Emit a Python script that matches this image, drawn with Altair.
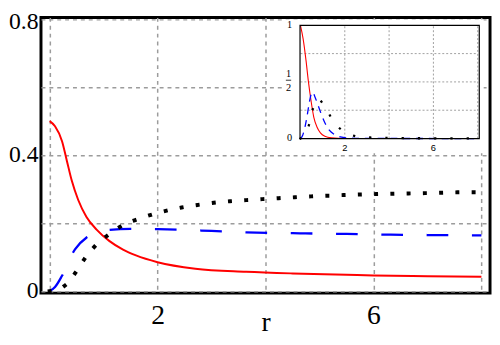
import altair as alt
import pandas as pd

# ---------------- main panel data ----------------
red_r = [0, 0.1, 0.23, 0.32, 0.41, 0.53, 0.68, 0.87, 1.11, 1.36, 1.6, 2.0, 2.7, 3.64, 4.5, 5.5, 6.0, 7.0, 8.0]
red_v = [0.5, 0.485, 0.441, 0.383, 0.325, 0.268, 0.219, 0.181, 0.147, 0.122, 0.105, 0.085, 0.066, 0.057, 0.052, 0.048, 0.046, 0.044, 0.042]

blue_r = [0, 0.1, 0.23, 0.47, 0.68, 0.9, 1.11, 1.5, 2.0, 2.5, 3.0, 3.64, 4.64, 5.5, 6.32, 7.0, 8.0]
blue_v = [0, 0.012, 0.045, 0.123, 0.157, 0.172, 0.180, 0.183, 0.182, 0.180, 0.177, 0.173, 0.170, 0.168, 0.166, 0.165, 0.164]

black_r = [0, 0.15, 0.31, 0.5, 0.67, 0.87, 1.11, 1.37, 1.66, 1.96, 2.26, 2.56, 2.86, 3.17, 3.49, 3.79, 4.1, 5.04, 5.95, 6.9, 7.83, 8.0]
black_v = [0, 0.005, 0.02, 0.059, 0.1, 0.137, 0.168, 0.195, 0.213, 0.228, 0.240, 0.249, 0.256, 0.262, 0.266, 0.269, 0.272, 0.280, 0.285, 0.288, 0.291, 0.291]

x_grid = [0, 2, 4, 6, 8]
x_labels = [2, 6]
y_grid = [0, 0.2, 0.4, 0.6, 0.8]
y_labels = [0, 0.4, 0.8]

# ---------------- inset data ----------------
in_red_r = [0, 0.12, 0.25, 0.36, 0.48, 0.6, 0.75, 0.9, 1.1, 1.4, 2.0, 4.0, 8.0]
in_red_v = [1.0, 0.88, 0.69, 0.5, 0.33, 0.19, 0.10, 0.05, 0.02, 0.006, 0.0, 0.0, 0.0]

in_blue_r = [0, 0.1, 0.2, 0.3, 0.4, 0.48, 0.55, 0.65, 0.8, 0.95, 1.1, 1.3, 1.5, 1.8, 2.2, 3.0, 8.0]
in_blue_v = [0, 0.03, 0.10, 0.20, 0.32, 0.39, 0.41, 0.37, 0.29, 0.21, 0.14, 0.075, 0.04, 0.015, 0.005, 0.001, 0.0]

in_black_r = [0, 0.2, 0.4, 0.57, 0.7, 0.82, 1.0, 1.2, 1.4, 1.6, 1.86, 2.2, 2.57, 3.3, 4.0, 5.0, 6.0, 7.0, 8.0]
in_black_v = [0, 0.04, 0.13, 0.27, 0.33, 0.35, 0.31, 0.25, 0.18, 0.125, 0.075, 0.04, 0.018, 0.008, 0.005, 0.003, 0.002, 0.001, 0.001]

in_x_grid = [2, 4, 6, 8]
in_y_grid = [0.25, 0.5, 0.75]
in_x_labels = ["2", "6"]
in_x_label_pos = [2, 6]
in_y_labels = ["1", "0"]
in_y_label_pos = [1, 0]

# inset placement (in inset data units)
in_box = dict(r=-0.72, r2=8.27, v=-0.13, v2=1.052)
in_frame = dict(r=-0.02, r2=8.07, v=0, v2=1)

SERIF = "Liberation Serif"


def df(xs, ys):
    return pd.DataFrame({"r": xs, "v": ys})


# ---------------- main panel ----------------
x_axis = alt.Axis(
    values=x_grid,
    labelExpr="datum.value == 2 || datum.value == 6 ? datum.label : ''",
    grid=True, gridDash=[4, 4], gridColor="#9c9c9c", gridWidth=1.5,
    domain=False, ticks=False, labelOverlap=False, labelFlush=False,
    labelFont=SERIF, labelFontSize=28, labelColor="black", labelPadding=9,
    title="r", titleFont=SERIF, titleFontSize=28, titleFontWeight="normal",
    titleColor="black", titleY=38, titleBaseline="alphabetic",
)
y_axis = alt.Axis(
    values=y_grid,
    labelExpr="datum.value == 0.2 || datum.value == 0.6 ? '' : format(datum.value, '~g')",
    grid=True, gridDash=[4, 4], gridColor="#9c9c9c", gridWidth=1.5,
    domain=False, ticks=False, labelOverlap=False, labelFlush=False,
    labelFont=SERIF, labelFontSize=24, labelColor="black", labelPadding=3,
    labelOffset={"condition": {"test": "datum.value == 0.8", "value": 3}, "value": 0},
    title=None,
)
X = alt.X("r:Q", scale=alt.Scale(domain=[-0.16, 8.16], nice=False, zero=False), axis=x_axis)
Y = alt.Y("v:Q", scale=alt.Scale(domain=[-0.006, 0.805], nice=False, zero=False), axis=y_axis)

red = alt.Chart(df(red_r, red_v)).mark_line(color="#ff0000", strokeWidth=2, interpolate="monotone").encode(x=X, y=Y)
blue = alt.Chart(df(blue_r, blue_v)).mark_line(color="#0000ff", strokeWidth=2.3, strokeDash=[22, 24], interpolate="monotone").encode(x=X, y=Y)
black = alt.Chart(df(black_r, black_v)).mark_line(color="black", strokeWidth=4, strokeDash=[0.01, 16.5], strokeCap="square", interpolate="monotone").encode(x=X, y=Y)

main = alt.layer(red, blue, black)

# ---------------- inset ----------------
IX = alt.Scale(domain=[0, 8], range=[263.5, 443.5], nice=False, zero=False)
IY = alt.Scale(domain=[0, 1], range=[123, 8], nice=False, zero=False)
ix = alt.X("r:Q", scale=IX, axis=None)
iy = alt.Y("v:Q", scale=IY, axis=None)

box = alt.Chart(pd.DataFrame([in_box])).mark_rect(fill="white").encode(x=ix, x2="r2:Q", y=iy, y2="v2:Q")

vgrid = alt.Chart(pd.DataFrame({"r": in_x_grid, "v": [0] * len(in_x_grid), "v2": [1] * len(in_x_grid)})).mark_rule(
    color="#a0a0a0", strokeWidth=1, strokeDash=[2, 2]).encode(x=ix, y=iy, y2="v2:Q")
hgrid = alt.Chart(pd.DataFrame({"v": in_y_grid, "r": [0] * len(in_y_grid), "r2": [8] * len(in_y_grid)})).mark_rule(
    color="#a0a0a0", strokeWidth=1, strokeDash=[2, 2]).encode(y=iy, x=ix, x2="r2:Q")

frame = alt.Chart(pd.DataFrame([in_frame])).mark_rect(fill=None, stroke="black", strokeWidth=1.2).encode(
    x=ix, x2="r2:Q", y=iy, y2="v2:Q")

i_red = alt.Chart(df(in_red_r, in_red_v)).mark_line(color="#ff0000", strokeWidth=1.1, interpolate="monotone").encode(x=ix, y=iy)
i_blue = alt.Chart(df(in_blue_r, in_blue_v)).mark_line(color="#0000ff", strokeWidth=1.3, strokeDash=[7, 6], interpolate="monotone").encode(x=ix, y=iy)
i_black = alt.Chart(df(in_black_r, in_black_v)).mark_line(color="black", strokeWidth=2.3, strokeDash=[0.01, 16.5], strokeCap="square", interpolate="monotone").encode(x=ix, y=iy)

xlab = alt.Chart(pd.DataFrame({"r": in_x_label_pos, "v": [-0.08] * 2, "t": in_x_labels})).mark_text(
    font="Liberation Sans", fontSize=9.5, color="black", baseline="middle", align="center").encode(x=ix, y=iy, text="t:N")
ylab = alt.Chart(pd.DataFrame({"r": [-0.38] * 2, "v": in_y_label_pos, "t": in_y_labels})).mark_text(
    font=SERIF, fontSize=10.5, color="black", baseline="middle", align="right").encode(x=ix, y=iy, text="t:N")
# the 1/2 fraction label
frac = alt.Chart(pd.DataFrame({"r": [-0.54, -0.54], "v": [0.568, 0.442], "t": ["1", "2"]})).mark_text(
    font=SERIF, fontSize=10.5, color="black", baseline="middle", align="center").encode(x=ix, y=iy, text="t:N")
frac_bar = alt.Chart(pd.DataFrame({"r": [-0.66], "r2": [-0.42], "v": [0.515]})).mark_rule(
    color="black", strokeWidth=0.8).encode(x=ix, x2="r2:Q", y=iy)

inset = alt.layer(box, vgrid, hgrid, i_red, i_blue, i_black, frame, xlab, ylab, frac, frac_bar)

chart = alt.layer(main, inset).resolve_scale(x="independent", y="independent").properties(
    width=456, height=280,
    padding={"left": 33.5, "top": 7, "right": 2, "bottom": 44},
    autosize=alt.AutoSizeParams(type="none"),
).configure_view(stroke="black", strokeWidth=3)

chart.save("out.html", embed_options={"renderer": "svg", "actions": False})
